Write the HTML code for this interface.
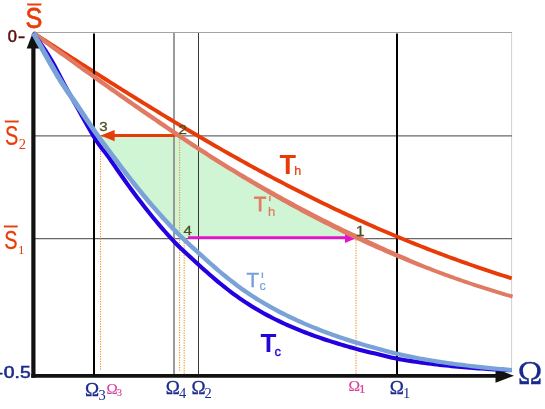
<!DOCTYPE html>
<html><head><meta charset="utf-8"><style>
html,body{margin:0;padding:0;background:#fff;}
body{width:545px;height:409px;overflow:hidden;font-family:"Liberation Sans",sans-serif;}
svg{display:block;will-change:transform;}
text{font-family:"Liberation Sans",sans-serif}
.ser{font-family:"Liberation Serif",serif}
</style></head><body>
<svg width="545" height="409" viewBox="0 0 545 409">
<rect width="545" height="409" fill="#fff"/>
<!-- green fill -->
<path d="M97.89,135.80 L99.10,137.50 L100.33,139.21 L101.57,140.91 L102.83,142.61 L104.09,144.32 L105.37,146.02 L106.66,147.72 L107.94,149.43 L109.23,151.13 L110.51,152.83 L111.78,154.54 L113.05,156.24 L114.31,157.94 L115.58,159.65 L116.86,161.35 L118.14,163.05 L119.43,164.76 L120.72,166.46 L122.01,168.16 L123.31,169.87 L124.62,171.57 L125.93,173.27 L127.24,174.98 L128.57,176.68 L129.90,178.38 L131.23,180.09 L132.57,181.79 L133.92,183.49 L135.28,185.20 L136.65,186.90 L138.02,188.60 L139.41,190.31 L140.80,192.01 L142.20,193.71 L143.61,195.42 L145.03,197.12 L146.45,198.82 L147.89,200.53 L149.33,202.23 L150.78,203.93 L152.25,205.64 L153.72,207.34 L155.20,209.04 L156.69,210.75 L158.20,212.45 L159.71,214.15 L161.24,215.86 L162.78,217.56 L164.33,219.26 L165.90,220.97 L167.47,222.67 L169.07,224.37 L170.68,226.08 L172.30,227.78 L173.94,229.48 L175.59,231.19 L177.27,232.89 L178.96,234.59 L180.67,236.30 L182.40,238.00 L359.47,238.00 L355.83,236.30 L352.22,234.59 L348.64,232.89 L345.09,231.19 L341.57,229.48 L338.09,227.78 L334.63,226.08 L331.20,224.37 L327.80,222.67 L324.42,220.97 L321.07,219.26 L317.75,217.56 L314.45,215.86 L311.18,214.15 L307.93,212.45 L304.71,210.75 L301.50,209.04 L298.32,207.34 L295.16,205.64 L292.02,203.93 L288.91,202.23 L285.81,200.53 L282.73,198.82 L279.68,197.12 L276.64,195.42 L273.62,193.71 L270.62,192.01 L267.63,190.31 L264.67,188.60 L261.71,186.90 L258.78,185.20 L255.86,183.49 L252.96,181.79 L250.08,180.09 L247.21,178.38 L244.35,176.68 L241.51,174.98 L238.68,173.27 L235.87,171.57 L233.07,169.87 L230.28,168.16 L227.51,166.46 L224.74,164.76 L222.00,163.05 L219.26,161.35 L216.53,159.65 L213.82,157.94 L211.12,156.24 L208.43,154.54 L205.75,152.83 L203.08,151.13 L200.42,149.43 L197.77,147.72 L195.13,146.02 L192.51,144.32 L189.89,142.61 L187.28,140.91 L184.68,139.21 L182.08,137.50 L179.50,135.80Z" fill="#d0f5d5"/>
<!-- grid -->
<line x1="33" y1="32.5" x2="512" y2="32.5" stroke="#a4a4a4" stroke-width="1"/>
<line x1="511.6" y1="33" x2="511.6" y2="369" stroke="#cccccc" stroke-width="0.9"/>
<line x1="33" y1="135.8" x2="512" y2="135.8" stroke="#686868" stroke-width="1.3"/>
<line x1="33" y1="238.7" x2="512" y2="238.7" stroke="#666666" stroke-width="1.3"/>
<line x1="174" y1="33" x2="174" y2="375" stroke="#909090" stroke-width="1.8"/>
<line x1="198.5" y1="33" x2="198.5" y2="375" stroke="#383838" stroke-width="1"/>
<line x1="397" y1="33.5" x2="397" y2="375" stroke="#000" stroke-width="2"/>
<!-- dotted -->
<g stroke="#f09428" stroke-width="1.1" stroke-dasharray="1.2,1.3" fill="none">
<line x1="100.5" y1="136" x2="100.5" y2="371"/>
<line x1="179.6" y1="137" x2="179.6" y2="371"/>
<line x1="184.2" y1="240" x2="184.2" y2="375"/>
<line x1="356" y1="240" x2="356" y2="374"/>
</g>
<!-- axes -->
<line x1="33.4" y1="40" x2="33.4" y2="377.8" stroke="#111" stroke-width="4.2"/>
<line x1="31.3" y1="375.9" x2="497" y2="375.9" stroke="#111" stroke-width="3.9"/>
<polygon points="495.5,368.6 514,375.7 495.5,382.8" fill="#111"/>
<polygon points="33.2,31.5 26.7,48.5 39.7,48.5" fill="#111"/>
<!-- curves & arrows -->
<path d="M33.40,33.00 L36.39,34.93 L39.38,36.86 L42.37,38.79 L45.36,40.71 L48.35,42.64 L51.34,44.57 L54.33,46.49 L57.31,48.42 L60.30,50.34 L63.29,52.27 L66.28,54.19 L69.27,56.11 L72.26,58.03 L75.25,59.94 L78.24,61.86 L81.23,63.77 L84.22,65.69 L87.21,67.60 L90.20,69.50 L93.19,71.41 L96.18,73.31 L99.17,75.21 L102.16,77.11 L105.15,79.01 L108.13,80.90 L111.12,82.79 L114.11,84.67 L117.10,86.56 L120.09,88.44 L123.08,90.31 L126.07,92.19 L129.06,94.05 L132.05,95.92 L135.04,97.78 L138.03,99.64 L141.02,101.49 L144.01,103.34 L147.00,105.19 L149.99,107.03 L152.97,108.86 L155.96,110.69 L158.95,112.52 L161.94,114.34 L164.93,116.16 L167.92,117.97 L170.91,119.78 L173.90,121.58 L176.89,123.38 L179.88,125.17 L182.87,126.95 L185.86,128.73 L188.85,130.51 L191.84,132.28 L194.83,134.04 L197.82,135.80 L200.81,137.55 L203.79,139.30 L206.78,141.03 L209.77,142.77 L212.76,144.49 L215.75,146.21 L218.74,147.93 L221.73,149.64 L224.72,151.34 L227.71,153.03 L230.70,154.72 L233.69,156.40 L236.68,158.07 L239.67,159.74 L242.66,161.40 L245.65,163.06 L248.63,164.70 L251.62,166.34 L254.61,167.97 L257.60,169.60 L260.59,171.21 L263.58,172.82 L266.57,174.43 L269.56,176.02 L272.55,177.61 L275.54,179.19 L278.53,180.76 L281.52,182.33 L284.51,183.88 L287.50,185.43 L290.49,186.97 L293.48,188.51 L296.46,190.03 L299.45,191.55 L302.44,193.06 L305.43,194.56 L308.42,196.06 L311.41,197.55 L314.40,199.02 L317.39,200.49 L320.38,201.96 L323.37,203.41 L326.36,204.85 L329.35,206.29 L332.34,207.72 L335.33,209.14 L338.32,210.56 L341.31,211.96 L344.30,213.36 L347.28,214.74 L350.27,216.12 L353.26,217.50 L356.25,218.86 L359.24,220.21 L362.23,221.56 L365.22,222.90 L368.21,224.23 L371.20,225.55 L374.19,226.86 L377.18,228.17 L380.17,229.46 L383.16,230.75 L386.15,232.03 L389.14,233.30 L392.12,234.57 L395.11,235.82 L398.10,237.07 L401.09,238.30 L404.08,239.53 L407.07,240.76 L410.06,241.97 L413.05,243.17 L416.04,244.37 L419.03,245.56 L422.02,246.74 L425.01,247.91 L428.00,249.07 L430.99,250.22 L433.98,251.37 L436.97,252.51 L439.95,253.64 L442.94,254.76 L445.93,255.87 L448.92,256.98 L451.91,258.08 L454.90,259.17 L457.89,260.25 L460.88,261.32 L463.87,262.39 L466.86,263.44 L469.85,264.49 L472.84,265.53 L475.83,266.57 L478.82,267.59 L481.81,268.61 L484.80,269.62 L487.79,270.62 L490.77,271.61 L493.76,272.60 L496.75,273.58 L499.74,274.55 L502.73,275.51 L505.72,276.47 L508.71,277.41 L511.70,278.35" fill="none" stroke="#e83c08" stroke-width="3.9"/>
<line x1="94" y1="33.5" x2="94" y2="375" stroke="#000" stroke-width="2"/>
<line x1="112" y1="135.6" x2="175" y2="135.6" stroke="#e83c08" stroke-width="3"/>
<polygon points="100.6,135.6 114.6,130 114.6,141.2" fill="#e83c08"/>
<line x1="188" y1="237.6" x2="347" y2="237.6" stroke="#e810d0" stroke-width="2.9"/>
<polygon points="356,238.3 345,233.9 345,242.9" fill="#e810d0"/>
<path d="M32.11,34.78 L34.50,36.52 L36.90,38.26 L39.30,40.00 L41.69,41.74 L44.09,43.48 L46.48,45.22 L48.88,46.95 L51.28,48.69 L53.67,50.43 L56.07,52.16 L58.47,53.90 L60.86,55.63 L63.26,57.36 L65.66,59.10 L68.05,60.83 L70.45,62.56 L72.85,64.28 L75.24,66.01 L77.64,67.74 L80.04,69.46 L82.43,71.18 L84.83,72.90 L87.23,74.62 L89.62,76.33 L92.02,78.05 L94.42,79.76 L96.82,81.47 L99.21,83.17 L101.61,84.88 L104.01,86.58 L106.40,88.28 L108.80,89.98 L111.20,91.67 L113.60,93.36 L115.99,95.05 L118.39,96.74 L120.79,98.42 L123.19,100.10 L125.58,101.77 L127.98,103.44 L130.38,105.11 L132.78,106.78 L135.18,108.44 L137.57,110.10 L139.97,111.75 L142.37,113.41 L144.77,115.05 L147.17,116.70 L149.56,118.34 L151.96,119.97 L154.36,121.61 L156.76,123.25 L159.16,124.89 L161.55,126.52 L163.95,128.16 L166.35,129.79 L168.75,131.42 L171.15,133.04 L173.55,134.67 L175.95,136.29 L178.34,137.90 L180.74,139.52 L183.14,141.12 L185.54,142.73 L187.94,144.32 L190.34,145.91 L192.74,147.50 L195.13,149.08 L197.53,150.65 L199.93,152.22 L202.33,153.78 L204.73,155.33 L207.13,156.87 L209.53,158.41 L211.93,159.93 L214.33,161.45 L216.73,162.96 L219.13,164.46 L221.52,165.95 L223.92,167.44 L226.32,168.92 L228.72,170.40 L231.11,171.87 L233.51,173.33 L235.90,174.79 L238.30,176.25 L240.69,177.70 L243.09,179.14 L245.48,180.58 L247.88,182.01 L250.27,183.44 L252.66,184.86 L255.06,186.28 L257.45,187.68 L259.85,189.09 L262.24,190.48 L264.63,191.87 L267.03,193.26 L269.42,194.63 L271.81,196.00 L274.21,197.36 L276.60,198.72 L279.00,200.07 L281.39,201.41 L283.79,202.75 L286.19,204.08 L288.58,205.40 L290.98,206.71 L293.38,208.02 L295.78,209.32 L298.18,210.61 L300.57,211.89 L302.97,213.17 L305.37,214.44 L307.77,215.71 L310.17,216.97 L312.57,218.22 L314.97,219.46 L317.37,220.70 L319.77,221.93 L322.17,223.16 L324.57,224.38 L326.97,225.59 L329.37,226.80 L331.77,227.99 L334.17,229.18 L336.57,230.37 L338.97,231.55 L341.37,232.72 L343.77,233.88 L346.17,235.03 L348.58,236.18 L350.98,237.33 L353.38,238.46 L355.78,239.59 L358.18,240.71 L360.58,241.83 L362.98,242.93 L365.39,244.04 L367.79,245.13 L370.20,246.23 L372.60,247.31 L375.01,248.39 L377.41,249.46 L379.82,250.53 L382.23,251.59 L384.64,252.65 L387.04,253.70 L389.45,254.74 L391.86,255.78 L394.27,256.81 L396.67,257.83 L399.08,258.85 L401.49,259.86 L403.90,260.86 L406.31,261.85 L408.72,262.83 L411.13,263.80 L413.55,264.76 L415.96,265.71 L418.37,266.65 L420.79,267.59 L423.20,268.52 L425.61,269.44 L428.02,270.36 L430.43,271.27 L432.83,272.18 L435.24,273.08 L437.64,273.98 L440.04,274.88 L442.44,275.76 L444.84,276.65 L447.24,277.52 L449.64,278.39 L452.04,279.25 L454.44,280.10 L456.84,280.95 L459.24,281.78 L461.64,282.62 L464.04,283.44 L466.44,284.26 L468.84,285.07 L471.24,285.87 L473.64,286.67 L476.04,287.46 L478.44,288.24 L480.84,289.02 L483.24,289.79 L485.64,290.55 L488.04,291.31 L490.44,292.06 L492.84,292.80 L495.24,293.54 L497.64,294.26 L500.04,294.99 L502.44,295.70 L504.84,296.41 L507.24,297.11 L509.64,297.81 L512.04,298.49 L513.16,294.76 L510.76,294.07 L508.37,293.38 L505.98,292.68 L503.59,291.97 L501.20,291.26 L498.80,290.54 L496.41,289.81 L494.02,289.08 L491.63,288.34 L489.24,287.60 L486.84,286.84 L484.45,286.08 L482.06,285.32 L479.67,284.54 L477.28,283.76 L474.88,282.97 L472.49,282.18 L470.10,281.38 L467.71,280.57 L465.32,279.76 L462.93,278.93 L460.53,278.10 L458.14,277.27 L455.75,276.43 L453.36,275.58 L450.97,274.72 L448.57,273.85 L446.18,272.98 L443.79,272.11 L441.40,271.22 L439.01,270.33 L436.62,269.42 L434.23,268.49 L431.85,267.56 L429.46,266.61 L427.08,265.65 L424.70,264.67 L422.32,263.69 L419.94,262.70 L417.56,261.70 L415.18,260.69 L412.80,259.67 L410.42,258.65 L408.04,257.62 L405.66,256.59 L403.28,255.55 L400.89,254.51 L398.51,253.47 L396.12,252.42 L393.74,251.36 L391.36,250.30 L388.97,249.23 L386.59,248.16 L384.20,247.08 L381.82,245.99 L379.43,244.91 L377.05,243.81 L374.66,242.72 L372.28,241.62 L369.89,240.52 L367.50,239.41 L365.11,238.31 L362.72,237.20 L360.33,236.09 L357.94,234.97 L355.55,233.85 L353.16,232.72 L350.77,231.58 L348.38,230.44 L345.99,229.29 L343.59,228.14 L341.20,226.97 L338.81,225.81 L336.42,224.63 L334.03,223.45 L331.64,222.26 L329.25,221.06 L326.85,219.86 L324.46,218.65 L322.07,217.44 L319.68,216.21 L317.28,214.98 L314.89,213.75 L312.50,212.51 L310.11,211.26 L307.71,210.01 L305.32,208.74 L302.93,207.48 L300.54,206.20 L298.14,204.92 L295.75,203.64 L293.36,202.35 L290.96,201.05 L288.57,199.75 L286.17,198.44 L283.77,197.13 L281.38,195.81 L278.98,194.49 L276.58,193.15 L274.19,191.82 L271.79,190.47 L269.39,189.12 L266.99,187.77 L264.59,186.40 L262.19,185.03 L259.80,183.66 L257.40,182.28 L255.00,180.89 L252.60,179.49 L250.20,178.09 L247.81,176.68 L245.41,175.27 L243.01,173.84 L240.61,172.41 L238.22,170.98 L235.82,169.53 L233.42,168.08 L231.03,166.63 L228.63,165.16 L226.24,163.69 L223.84,162.21 L221.45,160.72 L219.06,159.23 L216.67,157.72 L214.27,156.21 L211.88,154.69 L209.49,153.16 L207.09,151.62 L204.70,150.07 L202.31,148.52 L199.91,146.95 L197.52,145.38 L195.13,143.81 L192.73,142.23 L190.34,140.64 L187.95,139.04 L185.56,137.44 L183.16,135.84 L180.77,134.23 L178.37,132.62 L175.98,131.00 L173.59,129.38 L171.19,127.76 L168.80,126.13 L166.41,124.50 L164.01,122.87 L161.62,121.24 L159.23,119.61 L156.83,117.97 L154.44,116.34 L152.04,114.70 L149.65,113.07 L147.26,111.42 L144.86,109.78 L142.47,108.13 L140.07,106.48 L137.68,104.82 L135.29,103.16 L132.89,101.50 L130.50,99.83 L128.10,98.16 L125.71,96.49 L123.31,94.81 L120.92,93.13 L118.53,91.45 L116.13,89.77 L113.74,88.08 L111.34,86.38 L108.95,84.69 L106.55,82.99 L104.16,81.29 L101.76,79.59 L99.37,77.88 L96.97,76.18 L94.58,74.47 L92.18,72.76 L89.79,71.04 L87.39,69.32 L85.00,67.61 L82.60,65.89 L80.21,64.16 L77.81,62.44 L75.42,60.72 L73.02,58.99 L70.63,57.26 L68.23,55.53 L65.84,53.80 L63.44,52.07 L61.05,50.33 L58.65,48.60 L56.25,46.86 L53.86,45.13 L51.46,43.39 L49.07,41.65 L46.67,39.92 L44.28,38.18 L41.88,36.44 L39.48,34.70 L37.09,32.96 L34.69,31.22Z" fill="#e07a62"/>
<path d="M33.40,33.00 L36.39,37.30 L39.38,41.63 L42.37,46.03 L45.36,50.49 L48.35,55.06 L51.34,59.96 L54.33,65.24 L57.31,70.84 L60.30,76.62 L63.29,82.37 L66.28,87.86 L69.27,93.27 L72.26,98.66 L75.25,104.03 L78.24,109.36 L81.23,114.66 L84.22,119.94 L87.21,125.21 L90.20,130.47 L93.19,135.60 L96.18,140.41 L99.17,144.72 L102.16,148.66 L105.15,152.47 L108.13,156.41 L111.12,160.73 L114.11,165.13 L117.10,169.47 L120.09,173.76 L123.08,178.01 L126.07,182.20 L129.06,186.34 L132.05,190.42 L135.04,194.45 L138.03,198.43 L141.02,202.34 L144.01,206.20 L147.00,210.00 L149.99,213.74 L152.97,217.42 L155.96,221.04 L158.95,224.59 L161.94,228.09 L164.93,231.52 L167.92,234.88 L170.91,238.18 L173.90,241.38 L176.89,244.46 L179.88,247.42 L182.87,250.30 L185.86,253.10 L188.85,255.85 L191.84,258.57 L194.83,261.27 L197.82,263.98 L200.81,266.70 L203.79,269.41 L206.78,272.08 L209.77,274.70 L212.76,277.29 L215.75,279.83 L218.74,282.32 L221.73,284.77 L224.72,287.16 L227.71,289.51 L230.70,291.80 L233.69,294.03 L236.68,296.21 L239.67,298.33 L242.66,300.39 L245.65,302.39 L248.63,304.33 L251.62,306.21 L254.61,308.04 L257.60,309.81 L260.59,311.54 L263.58,313.21 L266.57,314.84 L269.56,316.43 L272.55,317.97 L275.54,319.47 L278.53,320.93 L281.52,322.35 L284.51,323.74 L287.50,325.09 L290.49,326.40 L293.48,327.68 L296.46,328.93 L299.45,330.15 L302.44,331.34 L305.43,332.50 L308.42,333.64 L311.41,334.74 L314.40,335.83 L317.39,336.89 L320.38,337.92 L323.37,338.94 L326.36,339.93 L329.35,340.90 L332.34,341.86 L335.33,342.80 L338.32,343.71 L341.31,344.62 L344.30,345.50 L347.28,346.37 L350.27,347.22 L353.26,348.05 L356.25,348.86 L359.24,349.65 L362.23,350.43 L365.22,351.19 L368.21,351.92 L371.20,352.65 L374.19,353.35 L377.18,354.05 L380.17,354.77 L383.16,355.51 L386.15,356.25 L389.14,356.97 L392.12,357.65 L395.11,358.30 L398.10,358.89 L401.09,359.42 L404.08,359.93 L407.07,360.42 L410.06,360.89 L413.05,361.35 L416.04,361.80 L419.03,362.23 L422.02,362.64 L425.01,363.04 L428.00,363.43 L430.99,363.81 L433.98,364.17 L436.97,364.52 L439.95,364.86 L442.94,365.19 L445.93,365.51 L448.92,365.81 L451.91,366.11 L454.90,366.39 L457.89,366.67 L460.88,366.94 L463.87,367.19 L466.86,367.44 L469.85,367.68 L472.84,367.92 L475.83,368.14 L478.82,368.36 L481.81,368.57 L484.80,368.77 L487.79,368.96 L490.77,369.15 L493.76,369.34 L496.75,369.51 L499.74,369.68 L502.73,369.84 L505.72,370.00 L508.71,370.16 L511.70,370.30" fill="none" stroke="#2200e0" stroke-width="4.1"/>
<path d="M31.12,34.26 L33.52,38.59 L35.91,42.92 L38.31,47.24 L40.70,51.53 L43.10,55.80 L45.49,60.04 L47.89,64.25 L50.29,68.41 L52.69,72.54 L55.09,76.64 L57.50,80.65 L59.92,84.52 L62.33,88.26 L64.75,91.88 L67.16,95.40 L69.57,98.85 L71.97,102.28 L74.37,105.73 L76.76,109.26 L79.17,112.83 L81.58,116.39 L83.98,119.94 L86.39,123.48 L88.80,127.00 L91.21,130.49 L93.62,133.94 L96.04,137.35 L98.45,140.70 L100.86,143.98 L103.27,147.19 L105.67,150.36 L108.06,153.52 L110.45,156.72 L112.85,159.94 L115.25,163.13 L117.66,166.31 L120.06,169.47 L122.46,172.60 L124.86,175.71 L127.26,178.80 L129.67,181.86 L132.07,184.89 L134.47,187.89 L136.88,190.86 L139.28,193.79 L141.68,196.70 L144.09,199.57 L146.49,202.42 L148.89,205.24 L151.30,208.03 L153.70,210.79 L156.10,213.52 L158.51,216.22 L160.91,218.88 L163.32,221.51 L165.72,224.11 L168.13,226.67 L170.53,229.20 L172.94,231.69 L175.35,234.15 L177.75,236.57 L180.16,238.95 L182.57,241.29 L184.99,243.57 L187.40,245.80 L189.80,247.98 L192.20,250.14 L194.59,252.29 L196.98,254.45 L199.37,256.63 L201.77,258.82 L204.17,260.99 L206.58,263.14 L208.98,265.27 L211.38,267.37 L213.79,269.45 L216.19,271.51 L218.60,273.54 L221.00,275.54 L223.41,277.51 L225.82,279.46 L228.22,281.37 L230.63,283.25 L233.04,285.10 L235.45,286.92 L237.86,288.70 L240.27,290.44 L242.69,292.15 L245.10,293.82 L247.51,295.46 L249.92,297.05 L252.33,298.61 L254.74,300.14 L257.15,301.64 L259.56,303.11 L261.97,304.55 L264.38,305.96 L266.79,307.35 L269.20,308.71 L271.61,310.05 L274.02,311.36 L276.42,312.64 L278.83,313.90 L281.24,315.14 L283.65,316.35 L286.05,317.55 L288.46,318.72 L290.87,319.87 L293.27,321.00 L295.68,322.11 L298.09,323.20 L300.49,324.27 L302.90,325.32 L305.30,326.36 L307.71,327.37 L310.11,328.37 L312.51,329.36 L314.92,330.33 L317.32,331.28 L319.73,332.22 L322.13,333.14 L324.53,334.05 L326.93,334.95 L329.34,335.83 L331.74,336.70 L334.14,337.56 L336.55,338.40 L338.95,339.23 L341.35,340.05 L343.75,340.85 L346.16,341.64 L348.56,342.41 L350.96,343.17 L353.37,343.92 L355.77,344.66 L358.17,345.38 L360.57,346.09 L362.98,346.78 L365.38,347.47 L367.78,348.14 L370.18,348.80 L372.57,349.45 L374.96,350.12 L377.35,350.78 L379.75,351.45 L382.14,352.11 L384.54,352.76 L386.95,353.41 L389.35,354.04 L391.75,354.66 L394.16,355.26 L396.57,355.84 L398.98,356.40 L401.39,356.94 L403.79,357.47 L406.19,357.98 L408.60,358.48 L411.00,358.97 L413.40,359.44 L415.80,359.90 L418.21,360.36 L420.61,360.80 L423.01,361.23 L425.41,361.65 L427.81,362.06 L430.21,362.47 L432.61,362.86 L435.01,363.25 L437.41,363.63 L439.81,364.00 L442.20,364.36 L444.60,364.72 L447.00,365.07 L449.40,365.41 L451.80,365.74 L454.20,366.06 L456.60,366.38 L459.00,366.69 L461.40,366.99 L463.79,367.29 L466.19,367.58 L468.59,367.86 L470.99,368.14 L473.39,368.41 L475.78,368.68 L478.18,368.94 L480.58,369.19 L482.97,369.45 L485.37,369.69 L487.77,369.93 L490.16,370.17 L492.56,370.40 L494.96,370.63 L497.35,370.86 L499.75,371.07 L502.15,371.29 L504.54,371.49 L506.94,371.69 L509.34,371.89 L511.73,372.08 L512.07,367.90 L509.68,367.70 L507.29,367.51 L504.90,367.31 L502.51,367.10 L500.13,366.89 L497.74,366.67 L495.35,366.45 L492.96,366.22 L490.57,365.99 L488.18,365.75 L485.80,365.51 L483.41,365.26 L481.02,365.01 L478.63,364.76 L476.24,364.50 L473.85,364.23 L471.47,363.96 L469.08,363.68 L466.69,363.40 L464.31,363.11 L461.92,362.82 L459.53,362.51 L457.15,362.20 L454.76,361.89 L452.37,361.57 L449.99,361.24 L447.60,360.90 L445.22,360.55 L442.83,360.20 L440.44,359.83 L438.06,359.46 L435.67,359.09 L433.29,358.70 L430.90,358.31 L428.52,357.90 L426.13,357.49 L423.75,357.07 L421.36,356.64 L418.98,356.20 L416.60,355.75 L414.21,355.29 L411.83,354.82 L409.45,354.34 L407.07,353.84 L404.68,353.34 L402.30,352.81 L399.93,352.28 L397.55,351.72 L395.17,351.15 L392.80,350.55 L390.42,349.94 L388.03,349.31 L385.65,348.67 L383.27,348.02 L380.88,347.36 L378.49,346.69 L376.10,346.03 L373.70,345.36 L371.31,344.70 L368.92,344.04 L366.53,343.38 L364.15,342.70 L361.77,342.00 L359.39,341.30 L357.01,340.58 L354.62,339.85 L352.24,339.11 L349.86,338.35 L347.48,337.58 L345.10,336.80 L342.71,336.00 L340.33,335.19 L337.95,334.37 L335.57,333.53 L333.19,332.68 L330.80,331.82 L328.42,330.94 L326.04,330.05 L323.66,329.14 L321.27,328.23 L318.89,327.29 L316.51,326.35 L314.13,325.39 L311.75,324.41 L309.37,323.42 L306.99,322.41 L304.61,321.38 L302.23,320.33 L299.85,319.27 L297.47,318.19 L295.09,317.09 L292.71,315.97 L290.33,314.84 L287.96,313.68 L285.58,312.50 L283.20,311.29 L280.82,310.07 L278.45,308.82 L276.07,307.55 L273.69,306.25 L271.32,304.93 L268.94,303.59 L266.56,302.22 L264.19,300.82 L261.81,299.39 L259.44,297.94 L257.06,296.46 L254.69,294.95 L252.31,293.40 L249.94,291.83 L247.57,290.22 L245.19,288.58 L242.82,286.89 L240.45,285.17 L238.07,283.41 L235.70,281.61 L233.32,279.78 L230.95,277.92 L228.57,276.03 L226.19,274.10 L223.81,272.14 L221.43,270.16 L219.05,268.14 L216.67,266.10 L214.29,264.03 L211.91,261.94 L209.53,259.83 L207.15,257.69 L204.76,255.53 L202.38,253.35 L199.98,251.15 L197.59,248.98 L195.19,246.82 L192.81,244.67 L190.43,242.50 L188.05,240.30 L185.68,238.05 L183.31,235.74 L180.93,233.38 L178.55,230.99 L176.18,228.55 L173.80,226.08 L171.42,223.57 L169.04,221.03 L166.66,218.45 L164.28,215.83 L161.90,213.18 L159.52,210.50 L157.14,207.79 L154.75,205.04 L152.37,202.27 L149.99,199.46 L147.61,196.62 L145.23,193.76 L142.84,190.86 L140.46,187.94 L138.08,184.99 L135.70,182.00 L133.32,178.98 L130.94,175.93 L128.55,172.86 L126.17,169.75 L123.79,166.63 L121.40,163.48 L119.02,160.30 L116.64,157.11 L114.25,153.89 L111.86,150.68 L109.47,147.49 L107.08,144.32 L104.71,141.13 L102.33,137.88 L99.96,134.56 L97.59,131.17 L95.21,127.73 L92.84,124.24 L90.46,120.72 L88.09,117.18 L85.71,113.62 L83.33,110.04 L80.95,106.45 L78.56,102.87 L76.17,99.37 L73.79,95.93 L71.41,92.48 L69.04,88.99 L66.67,85.42 L64.30,81.74 L61.94,77.93 L59.56,73.98 L57.18,69.92 L54.79,65.81 L52.40,61.66 L50.02,57.47 L47.63,53.25 L45.24,48.99 L42.85,44.71 L40.46,40.40 L38.07,36.08 L35.68,31.74Z" fill="#78a2d8"/>
<!-- labels -->
<g fill="#e83c08" stroke="#e83c08" stroke-width="0.5">
<text x="0" y="0" font-size="29" transform="translate(25.6,27.9) scale(0.87,1)" stroke-width="0.75">S</text>
<rect x="27.5" y="3.75" width="13.6" height="1.5" stroke-width="0.3"/>
<text x="0" y="0" font-size="28.5" transform="translate(5.1,145.3) scale(0.70,1)" stroke-width="0.25">S</text>
<rect x="5" y="120.8" width="13.6" height="1.4" stroke-width="0.3"/>
<text class="ser" x="18.7" y="149" font-size="14.5" stroke="none">2</text>
<text x="0" y="0" font-size="26.5" transform="translate(4.2,248.8) scale(0.75,1)" stroke-width="0.25">S</text>
<rect x="4" y="225.8" width="13.6" height="1.4" stroke-width="0.3"/>
<text class="ser" x="18" y="253.7" font-size="13" stroke="none">1</text>
<text x="279.5" y="173.8" font-size="27" font-weight="bold" stroke="none">T</text>
<text x="294.3" y="175" font-size="12.5" stroke-width="0.2">h</text>
</g>
<g fill="#e07a62">
<text x="254" y="210.6" font-size="20" stroke="#e07a62" stroke-width="0.8">T</text>
<text x="268" y="215.6" font-size="13" stroke="#e07a62" stroke-width="0.2">h</text>
<rect x="269.2" y="196" width="1.4" height="5.2"/>
</g>
<g fill="#78a2d8">
<text x="246.5" y="287.2" font-size="20.5" stroke="#78a2d8" stroke-width="0.5">T</text>
<text x="259.6" y="290" font-size="12.5" stroke="#78a2d8" stroke-width="0.2">c</text>
<rect x="261.7" y="272.5" width="1.4" height="5.5"/>
</g>
<g fill="#2008d8">
<text x="260.5" y="352" font-size="26" font-weight="bold">T</text>
<text x="274.6" y="356" font-size="13" stroke="#2008d8" stroke-width="0.4">c</text>
</g>
<g fill="#5c1010" font-size="16.5" stroke="#5c1010" stroke-width="0.55">
<text x="7.7" y="42.1">0</text><rect x="18.9" y="36.7" width="5.3" height="1.3"/>
</g>
<g fill="#1a2a8c" font-size="16.5" stroke="#1a2a8c" stroke-width="0.55">
<text x="-2.5" y="378">-</text><text transform="translate(3.8,378) scale(1.17,1)">0.5</text>
</g>
<g fill="#4a5020" font-size="13.5" stroke="#4a5020" stroke-width="0.28">
<text transform="translate(99.3,131) scale(1.12,1)">3</text>
<text transform="translate(178.6,134.2) scale(1.12,1)">2</text>
<text transform="translate(183.6,235) scale(1.12,1)">4</text>
<text transform="translate(355.8,236.2) scale(1.1,1)" font-size="14.6">1</text>
<rect x="357.6" y="235" width="5.6" height="1.1" stroke="none"/>
</g>
<g fill="#1a2a8c" class="ser" stroke="#1a2a8c" stroke-width="0.3">
<text class="ser" x="85" y="395.7" font-size="19">Ω</text><text class="ser" x="98.5" y="400" font-size="14.5" stroke="none">3</text>
<text class="ser" x="165.7" y="393.7" font-size="19">Ω</text><text class="ser" x="179" y="397.7" font-size="14.5" stroke="none">4</text>
<text class="ser" x="191.6" y="393.7" font-size="19">Ω</text><text class="ser" x="204.6" y="397.7" font-size="14.5" stroke="none">2</text>
<text class="ser" x="389.7" y="394" font-size="19">Ω</text><text class="ser" x="403" y="397.5" font-size="14.5" stroke="none">1</text>
<text class="ser" x="517.7" y="383.8" font-size="33">Ω</text>
</g>
<g fill="#d8409a" stroke="#d8409a" stroke-width="0.2">
<text class="ser" x="106.5" y="393.6" font-size="15">Ω</text><text class="ser" x="117" y="395.6" font-size="10">3</text>
<text class="ser" x="348.5" y="390.8" font-size="15.5">Ω</text><text class="ser" x="358.9" y="392.8" font-size="13">1</text>
</g>
</svg>
</body></html>
